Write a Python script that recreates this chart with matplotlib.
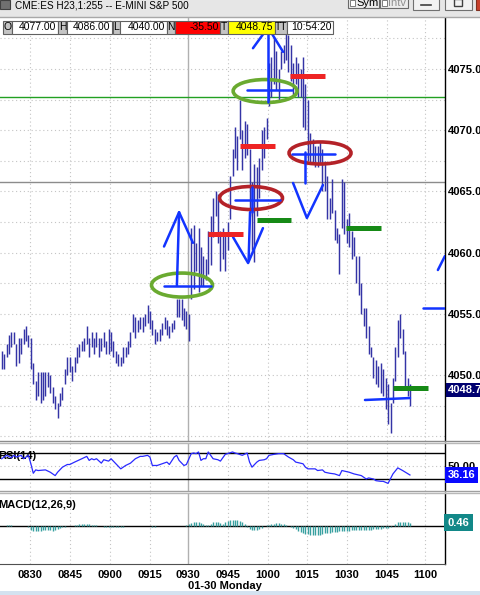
import numpy as np
import matplotlib.pyplot as plt
import matplotlib.transforms as mtransforms
from matplotlib import font_manager as fm
from matplotlib.patches import Ellipse, Rectangle
from matplotlib.lines import Line2D

plt.rcParams['font.family'] = ['Liberation Sans', 'DejaVu Sans']

# ---- data ----
bar_high = [4052.0, 4051.75, 4052.5, 4053.25, 4053.5, 4053.5, 4052.5, 4053.0, 4053.0, 4053.75,
            4054.0, 4053.25, 4053.0, 4051.0, 4049.5, 4050.25, 4050.25, 4050.25, 4050.25, 4050.25,
            4050.0, 4049.0, 4048.25, 4047.75, 4048.5, 4049.0, 4050.5, 4051.5, 4051.5, 4050.75,
            4051.5, 4052.25, 4052.5, 4052.75, 4053.0, 4054.0, 4053.0, 4053.5, 4053.0, 4053.5,
            4053.0, 4053.0, 4053.5, 4052.75, 4053.75, 4053.5, 4052.75, 4052.0, 4051.75, 4051.5,
            4052.25, 4052.25, 4052.75, 4053.5, 4055.0, 4054.75, 4054.5, 4054.75, 4054.75, 4055.0,
            4055.75, 4055.25, 4054.5, 4053.75, 4053.5, 4053.75, 4054.25, 4054.75, 4054.5, 4054.0,
            4054.25, 4054.5, 4056.25, 4056.25, 4056.25, 4055.5, 4055.25, 4055.0, 4062.0, 4062.25,
            4060.75, 4062.0, 4060.5, 4059.75, 4059.5, 4061.75, 4063.0, 4064.5, 4065.0, 4064.75,
            4061.75, 4062.0, 4061.5, 4062.5, 4066.25, 4068.5, 4070.25, 4069.5, 4072.5, 4070.0,
            4070.75, 4070.5, 4068.5, 4065.75, 4067.25, 4067.0, 4067.75, 4070.0, 4070.25,
            4071.0, 4075.5, 4076.0, 4077.5, 4076.5, 4075.0, 4076.5, 4077.0, 4078.25, 4077.75,
            4077.0, 4075.5, 4076.0, 4075.5, 4075.0, 4076.0, 4073.75, 4072.5, 4069.75,
            4069.25, 4068.75, 4068.75, 4069.0, 4068.5, 4067.5, 4066.25, 4064.5, 4066.0,
            4063.5, 4062.0, 4061.5, 4066.0, 4065.75, 4062.75, 4063.25, 4061.75,
            4061.25, 4059.75, 4059.75, 4057.5, 4055.5, 4055.5, 4054.0, 4052.25, 4051.5,
            4051.25, 4050.75, 4051.0, 4050.5, 4049.75, 4049.25, 4047.75, 4049.75, 4052.25,
            4054.5, 4055.0, 4053.75, 4052.0, 4049.75, 4049.25]
bar_low = [4050.5, 4050.5, 4051.5, 4051.75, 4052.25, 4052.5, 4050.75, 4051.0, 4051.75, 4052.5,
           4052.75, 4052.25, 4050.5, 4049.25, 4048.0, 4048.25, 4047.75, 4048.0, 4048.25, 4049.0,
           4048.5, 4047.75, 4047.25, 4046.5, 4047.5, 4048.0, 4049.25, 4050.0, 4050.25, 4049.5,
           4050.25, 4051.0, 4051.5, 4052.0, 4052.0, 4052.5, 4051.5, 4052.25, 4051.75, 4052.25,
           4051.5, 4052.0, 4052.25, 4051.75, 4051.75, 4052.0, 4051.5, 4051.0, 4050.75, 4050.75,
           4051.0, 4051.5, 4051.75, 4052.25, 4053.5, 4053.0, 4053.5, 4053.75, 4053.5, 4054.0,
           4054.25, 4053.75, 4053.25, 4052.5, 4052.75, 4052.75, 4053.25, 4053.75, 4053.25, 4053.0,
           4053.5, 4053.75, 4054.75, 4054.75, 4054.5, 4054.0, 4053.75, 4052.75, 4056.25, 4057.0,
           4058.5, 4056.75, 4057.25, 4057.25, 4057.75, 4058.25, 4059.0, 4061.25, 4063.0, 4060.75,
           4058.5, 4059.5, 4058.5, 4060.25, 4062.75, 4066.25, 4067.75, 4066.75, 4069.25, 4066.75,
           4067.75, 4068.0, 4063.0, 4060.25, 4059.25, 4063.0, 4064.5, 4066.75, 4067.75,
           4069.25, 4072.0, 4072.75, 4073.75, 4073.25, 4072.5, 4075.0, 4075.5, 4075.75, 4074.75,
           4074.0, 4072.75, 4073.75, 4072.75, 4072.75, 4070.25, 4070.0, 4067.5, 4067.25,
           4067.25, 4067.0, 4067.0, 4067.25, 4065.0, 4065.0, 4062.75, 4062.75, 4063.25,
           4061.0, 4060.75, 4058.25, 4062.0, 4061.5, 4060.75, 4060.5, 4059.5,
           4059.75, 4057.5, 4056.5, 4055.0, 4054.0, 4053.0, 4051.75, 4051.5, 4049.75,
           4049.25, 4049.0, 4048.5, 4048.25, 4047.25, 4046.0, 4045.25, 4047.75, 4049.5,
           4051.5, 4053.0, 4051.75, 4048.75, 4048.25, 4047.5]

rsi_bar = [0, 1, 2, 4, 5, 6, 8, 9, 11, 12, 13, 14, 15, 18, 20, 22, 23, 25, 27, 28,
           30, 33, 35, 36, 37, 38, 39, 41, 42, 44, 45, 47, 49, 51, 53, 55, 57, 58, 60, 61,
           62, 64, 66, 68, 69, 71, 72, 73, 75, 76, 78, 79, 80, 81, 82, 83, 84, 85, 87, 89,
           90, 92, 95, 96, 97, 99, 101, 102, 103, 105, 106, 108, 109, 110, 112, 114, 116, 118, 120, 121,
           124, 125, 126, 129, 130, 132, 133, 135, 137, 139, 140, 143, 145, 148, 150, 151, 153, 154, 156, 157,
           159, 161, 163, 165, 168]
rsi_val = [61.2, 63.8, 66.4, 62.7, 66.4, 63.8, 66.4, 61.2, 66.4, 53.4, 38.8, 44.0, 43.0, 44.0, 40.4, 35.2, 40.4, 48.2, 52.3, 52.3,
           56.0, 61.2, 64.8, 58.6, 61.2, 59.6, 61.2, 54.4, 59.6, 57.5, 61.2, 53.4, 45.6, 50.8, 54.4, 61.2, 64.8, 64.8, 66.4, 63.8,
           50.8, 50.8, 53.4, 56.0, 52.3, 63.8, 66.4, 58.6, 50.8, 52.3, 69.0, 70.0, 69.0, 71.6, 58.6, 61.2, 61.2, 71.6, 61.2, 59.6,
           57.5, 67.9, 71.6, 70.0, 69.0, 66.4, 70.0, 56.0, 48.2, 56.0, 58.6, 59.6, 61.2, 66.4, 67.9, 69.0, 69.0, 63.8, 59.6, 56.0,
           53.4, 48.2, 45.6, 45.6, 43.0, 44.0, 40.4, 38.8, 37.8, 35.2, 43.0, 40.4, 37.8, 35.2, 30.0, 31.6, 30.0, 27.4, 26.4, 26.4,
           23.2, 37.8, 47.1, 43.0, 36.16]

macd_hist = [0.05, 0.05, 0.1, 0.1, 0.1, 0.05, 0.05, 0.05, 0.05, 0.0, -0.05,
             -0.2, -0.55, -0.65, -0.7, -0.7, -0.65, -0.6, -0.55, -0.55, -0.6, -0.65, -0.6, -0.5, -0.35, -0.2, -0.1,
             -0.05, 0.0, 0.05, 0.1,
             0.2, 0.25, 0.3, 0.3, 0.25, 0.25, 0.2, 0.15, 0.1,
             0.0, -0.05, -0.1, -0.15, -0.15, -0.2, -0.2, -0.15, -0.1, -0.1, -0.1, -0.05, -0.05, 0.0,
             0.0, 0.0, 0.05, 0.0, 0.0, 0.05, -0.05, -0.05, -0.1, -0.1, -0.05, -0.05, 0.0, 0.0, 0.0,
             0.05, 0.05, 0.0, 0.0, -0.05, -0.05, 0.0, 0.1,
             0.3, 0.45, 0.55, 0.6, 0.5, 0.4, 0.3,
             0.15, 0.2,
             0.35, 0.5, 0.55, 0.5, 0.4, 0.3,
             0.5, 0.7, 0.85, 0.9, 0.85, 0.8, 0.7, 0.55, 0.3,
             -0.2, -0.45, -0.6, -0.6, -0.55, -0.45, -0.35,
             -0.05, 0.1, 0.2,
             0.3, 0.35, 0.4, 0.4, 0.35, 0.3, 0.2,
             0.05, -0.1, -0.3, -0.5,
             -0.7, -0.85, -1.0, -1.1, -1.2,
             -1.3, -1.35, -1.35, -1.3, -1.25,
             -1.1, -1.0, -1.0, -0.95, -0.9, -0.85, -0.8, -0.75, -0.75, -0.7, -0.7,
             -0.65, -0.6, -0.6, -0.55, -0.55, -0.6, -0.6, -0.6, -0.55, -0.55, -0.5, -0.5, -0.45, -0.4,
             -0.35, -0.3, -0.25, -0.15, 0.0,
             0.3, 0.5, 0.6, 0.6, 0.55, 0.5, 0.46]

time_labels = ['0830', '0845', '0900', '0915', '0930', '0945', '1000', '1015', '1030', '1045', '1100']
time_bars = [11.65, 28.1, 44.57, 61.03, 76.67, 93.13, 109.6, 125.67, 142.1, 158.56, 174.2]
session_bar = 76.67
price_ticks = [4050, 4055, 4060, 4065, 4070, 4075]

info_keys = ['O', 'H', 'L', 'N', 'T', 'TT']
info_vals = ['4077.00', '4086.00', '4040.00', '-35.50', '4048.75', '10:54:20']
last_price = 4048.75
green_level = 4072.75
gray_level = 4065.75

# ---- layout (pixels) ----
W, H = 480, 595
fig = plt.figure(figsize=(4.8, 5.95), dpi=100)


def box(x0, y0, x1, y1):
    return [x0 / W, 1 - y1 / H, (x1 - x0) / W, (y1 - y0) / H]


step = 2.43
xlim = (-1.7 / step, (445 - 1.7) / step)
idx = np.arange(len(bar_high))
grid_c = '#c4c4c4'
navy = '#3434a6'
blue = '#1234ff'
red = '#ee2424'
dgreen = '#168a16'
lgreen = '#6aaa30'
dred = '#b42228'


def vgrid(a):
    for t in time_bars:
        if t == session_bar:
            a.axvline(t, color='#b0b0b0', lw=1.0, zorder=1)
        else:
            a.axvline(t, color=grid_c, lw=0.8, ls=(0, (1, 2.5)), zorder=1)


def clean(a):
    a.set_xlim(*xlim)
    a.set_xticks([])
    for s in ['top', 'left', 'bottom']:
        a.spines[s].set_visible(False)
    a.spines['right'].set_color('black')
    a.spines['right'].set_linewidth(1.0)


# price panel
ax = fig.add_axes(box(0, 17, 445, 441))
clean(ax)
ax.set_ylim(4044.61, 4079.25)
vgrid(ax)
for p in np.arange(4045, 4080, 2.5):
    ax.axhline(p, color=grid_c, lw=0.8, ls=(0, (1, 2.5)), zorder=1)
ax.axhline(green_level, color='#22a022', lw=1.0, zorder=2)
ax.axhline(gray_level, color='#8c8c8c', lw=1.0, zorder=2)
ax.vlines(idx, bar_low, bar_high, color=navy, lw=1.05, zorder=3)

ax.yaxis.tick_right()
ax.set_yticks(price_ticks)
ax.set_yticklabels(['%.2f' % p for p in price_ticks], fontsize=8, fontweight='bold')
ax.tick_params(axis='y', length=0, pad=2)

# hand drawn marks
for (cx, cy, w, h, c) in [(74.2, 4057.35, 25.1, 1.96, lgreen), (102.6, 4064.46, 25.9, 1.88, dred),
                          (108.4, 4073.2, 26.3, 1.88, lgreen), (131.0, 4068.14, 25.5, 1.8, dred)]:
    ax.add_patch(Ellipse((cx, cy), w, h, fill=False, ec=c, lw=2.6, zorder=5))

blue_strokes = [
    ([66.8, 86.1], [4057.27, 4057.27]), ([72.1, 73.0], [4057.3, 4063.3]),
    ([66.8, 73.0, 78.7], [4060.5, 4063.3, 4060.8]),
    ([96.0, 114.5], [4064.3, 4064.3]), ([103.0, 103.0], [4065.36, 4063.32]),
    ([102.2, 101.6], [4063.3, 4059.3]), ([95.2, 101.4, 107.5], [4061.27, 4059.15, 4062.0]),
    ([100.9, 119.5], [4073.28, 4073.28]), ([109.6, 109.6], [4072.3, 4078.4]),
    ([103.4, 109.6, 115.8], [4076.7, 4078.4, 4076.4]),
    ([119.5, 137.2], [4068.06, 4068.06]), ([124.8, 124.8], [4068.2, 4065.7]),
    ([119.9, 125.6, 132.2], [4065.69, 4062.83, 4065.52]),
    ([149.5, 168.0], [4047.96, 4048.12]),
    ([173.4, 183.0], [4055.47, 4055.47]), ([179.5, 182.4], [4058.58, 4059.72]),
]
for xs, ys in blue_strokes:
    ax.plot(xs, ys, color=blue, lw=1.8, zorder=6, solid_capstyle='round')

for (x0, x1, y) in [(84.9, 99.3, 4061.52), (98.1, 112.5, 4068.7), (118.6, 133.1, 4074.43)]:
    ax.plot([x0, x1], [y, y], color=red, lw=3.6, zorder=6, solid_capstyle='butt')
for (x0, x1, y) in [(105.1, 119.1, 4062.66), (141.7, 156.1, 4062.0), (161.0, 175.4, 4048.94)]:
    ax.plot([x0, x1], [y, y], color=dgreen, lw=3.6, zorder=6, solid_capstyle='butt')

bt = mtransforms.blended_transform_factory(ax.transAxes, ax.transData)
ax.text(1.006, last_price, '%.2f' % last_price, transform=bt, ha='left', va='center',
        fontsize=8, fontweight='bold', color='white', clip_on=False,
        bbox=dict(boxstyle='square,pad=0.18', fc='#000070', ec='none'))

# RSI panel
ar = fig.add_axes(box(0, 443, 445, 491))
clean(ar)
ar.set_ylim(11.5, 85.4)
vgrid(ar)
ar.axhline(70, color='black', lw=1.0)
ar.axhline(30, color='black', lw=1.0)
ar.axhline(50, color=grid_c, lw=0.8, ls=(0, (1, 2.5)))
ar.plot(rsi_bar, rsi_val, color='#2a2aff', lw=0.9, zorder=4)
ar.set_yticks([])
ar.text(-0.003, 0.72, 'RSI(14)', transform=ar.transAxes, ha='left', va='center', fontsize=8,
        fontweight='bold')
bt2 = mtransforms.blended_transform_factory(ar.transAxes, ar.transData)
ar.text(1.006, 49.0, '50.00', transform=bt2, ha='left', va='center', fontsize=8,
        fontweight='bold', clip_on=False)
ar.text(1.006, rsi_val[-1], '%.2f' % rsi_val[-1], transform=bt2, ha='left', va='center',
        fontsize=8, fontweight='bold', color='white', clip_on=False,
        bbox=dict(boxstyle='square,pad=0.25', fc='#0a0aff', ec='none'))

# MACD panel
am = fig.add_axes(box(0, 493, 445, 564))
clean(am)
am.spines['bottom'].set_visible(True)
am.spines['bottom'].set_color('#505050')
am.set_ylim(-5.43, 4.71)
vgrid(am)
am.axhline(0, color='black', lw=1.0, zorder=2)
am.vlines(idx, 0, macd_hist, color='#38a0a0', lw=1.0, zorder=3)
am.set_yticks([])
am.text(-0.003, 0.83, 'MACD(12,26,9)', transform=am.transAxes, ha='left', va='center', fontsize=8,
        fontweight='bold')
bt3 = mtransforms.blended_transform_factory(am.transAxes, am.transData)
am.text(1.006, macd_hist[-1], '%.2f' % macd_hist[-1], transform=bt3, ha='left', va='center',
        fontsize=8, fontweight='bold', color='white', clip_on=False,
        bbox=dict(boxstyle='square,pad=0.3', fc='#128888', ec='none'))
am.set_xticks(time_bars)
am.set_xticklabels(time_labels, fontsize=8, fontweight='bold')
am.tick_params(axis='x', length=0, pad=4.5)
am.text(session_bar, -0.31, '01-30 Monday',
        transform=mtransforms.blended_transform_factory(am.transData, am.transAxes),
        ha='left', va='center', fontsize=8, fontweight='bold')

# separators across the whole width
for y, c in [(441, '#8c8c8c'), (443, '#b8b8b8'), (491, '#a0a0a0'), (493, '#b8b8b8')]:
    fig.add_artist(Line2D([0, 1], [1 - y / H] * 2, transform=fig.transFigure, color=c, lw=1))

# window chrome overlay
names = {f.name for f in fm.fontManager.ttflist}
if 'Liberation Sans Narrow' in names:
    title_font, title_size = 'Liberation Sans Narrow', 8.6
else:
    title_font, title_size = 'Liberation Sans', 7.2

ov = fig.add_axes([0, 0, 1, 1], zorder=20)
ov.set_xlim(0, W)
ov.set_ylim(H, 0)
ov.axis('off')
ov.patch.set_alpha(0)
ov.add_patch(Rectangle((0, 0), W, 17, fc='#e6e6e6', ec='none'))
ov.plot([0, W], [17, 17], color='#a8a8a8', lw=1)
ov.add_patch(Rectangle((0, 0), 10, 9, fc='#707070', ec='#404040', lw=0.8))
ov.text(15, 8.3, 'CME:ES H23,1:255 -- E-MINI S&P 500', fontsize=title_size, family=title_font,
        va='baseline', ha='left')
for (x0, w, lab, tc) in [(348, 31, 'Sym', 'black'), (380, 28, 'Intv', '#909090')]:
    ov.add_patch(Rectangle((x0, -3), w, 11, fc='#ececec', ec='#6a6a6a', lw=0.8))
    ov.add_patch(Rectangle((x0 + 2, 0), 5, 6, fc='white', ec='#6a6a6a', lw=0.6))
    ov.text(x0 + 8, 6.5, lab, fontsize=8, va='baseline', ha='left', color=tc)
ov.add_patch(Rectangle((413, -3), 26, 13, fc='#f2f2f2', ec='#707070', lw=0.8))
ov.plot([421, 431], [5, 5], color='#404040', lw=1.2)
ov.add_patch(Rectangle((445, -3), 27, 13, fc='#f2f2f2', ec='#707070', lw=0.8))
ov.add_patch(Rectangle((454, -1), 8, 7, fc='none', ec='#404040', lw=1.0))
ov.add_patch(Rectangle((476, -3), 8, 13, fc='#c8402c', ec='#803020', lw=0.8))

key_x = [(3, 12), (58, 67), (113, 120), (167, 175), (220, 228), (275, 287)]
val_x = [(12, 58), (67, 112), (120, 167), (175, 220), (228, 275), (287, 333)]
val_bg = ['white', 'white', 'white', '#ff0000', '#ffff00', 'white']
for k, v, (kx0, kx1), (vx0, vx1), bg in zip(info_keys, info_vals, key_x, val_x, val_bg):
    ov.add_patch(Rectangle((kx0, 21), kx1 - kx0, 12.5, fc='#c4c4c4', ec='#606060', lw=0.8))
    ov.add_patch(Rectangle((vx0, 21), vx1 - vx0, 12.5, fc=bg, ec='#606060', lw=0.8))
    ov.text((kx0 + kx1) / 2, 27.5, k, fontsize=7.5, ha='center', va='center')
    ov.text(vx1 - 1.5, 27.5, v, fontsize=7.5, ha='right', va='center')

ov.add_patch(Rectangle((0, 591), W, 4, fc='#d4e2f0', ec='none'))

fig.savefig('out.png', dpi=100)
